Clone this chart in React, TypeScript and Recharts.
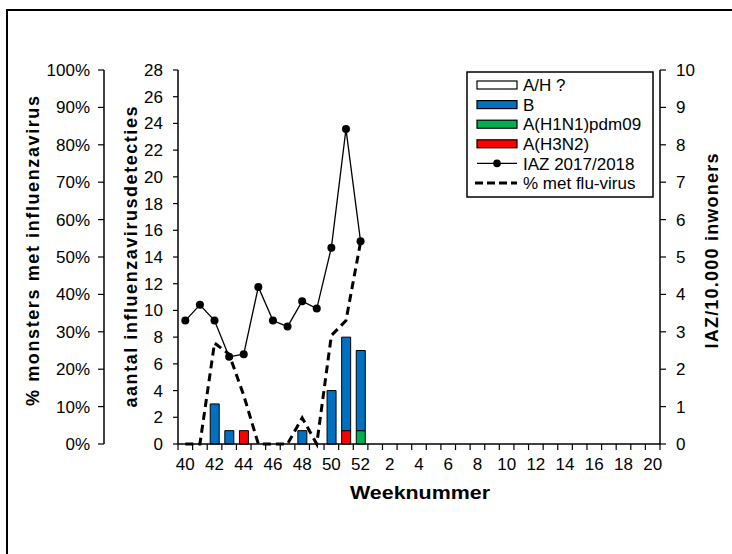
import React from 'react';
import { ComposedChart, Bar, Line, XAxis, YAxis } from 'recharts';

const weeks = [
  '40', '41', '42', '43', '44', '45', '46', '47', '48', '49', '50', '51', '52',
  '1', '2', '3', '4', '5', '6', '7', '8', '9', '10', '11', '12', '13', '14', '15', '16', '17', '18', '19', '20',
];

// weeks 40..52 only, the rest of the season has no data yet
const aUnknown = [0, 0, 0, 0, 0, 0, 0, 0, 0, 0, 0, 0, 0];
const fluB = [0, 0, 3, 1, 0, 0, 0, 0, 1, 0, 4, 7, 6];
const h1n1 = [0, 0, 0, 0, 0, 0, 0, 0, 0, 0, 0, 0, 1];
const h3n2 = [0, 0, 0, 0, 1, 0, 0, 0, 0, 0, 0, 1, 0];
const iaz = [3.3, 3.72, 3.3, 2.33, 2.4, 4.2, 3.3, 3.14, 3.82, 3.62, 5.25, 8.42, 5.42];
const pctPositive = [0, 0, 27, 24, 13, 0, 0, 0, 7, 0, 29, 33, 54];

const countTicks = [0, 2, 4, 6, 8, 10, 12, 14, 16, 18, 20, 22, 24, 26, 28];
const pctTicks = [0, 10, 20, 30, 40, 50, 60, 70, 80, 90, 100];
const iazTicks = [0, 1, 2, 3, 4, 5, 6, 7, 8, 9, 10];

const BLUE = '#0070C0';
const GREEN = '#00B050';
const RED = '#FF0000';

const legendItems = [
  { label: 'A/H ?', kind: 'box', color: '#FFFFFF' },
  { label: 'B', kind: 'box', color: BLUE },
  { label: 'A(H1N1)pdm09', kind: 'box', color: GREEN },
  { label: 'A(H3N2)', kind: 'box', color: RED },
  { label: 'IAZ 2017/2018', kind: 'dotline', color: '#000' },
  { label: '% met  flu-virus', kind: 'dash', color: '#000' },
];

const orNull = (arr: number[], i: number) => {
  const v = arr[i];
  return v === undefined || v === 0 ? null : v;
};

const data = weeks.map((week, i) => ({
  week,
  aUnknown: orNull(aUnknown, i),
  fluB: orNull(fluB, i),
  h1n1: orNull(h1n1, i),
  h3n2: orNull(h3n2, i),
  iaz: iaz[i] ?? null,
  pct: pctPositive[i] ?? null,
}));

const tickStyle = { fill: '#000', fontSize: 17 };

const WeekTick = (props: any) => {
  const { x, y, payload, index, visibleTicksCount } = props;
  const half = payload && payload.offset ? payload.offset : 7.3;
  const isLast = index === visibleTicksCount - 1;
  return (
    <g>
      <line x1={x - half} x2={x - half} y1={y} y2={y + 6} stroke="#000" strokeWidth={1.2} />
      {isLast && <line x1={x + half} x2={x + half} y1={y} y2={y + 6} stroke="#000" strokeWidth={1.2} />}
      {index % 2 === 0 && (
        <text x={x} y={y + 14} dy="0.71em" textAnchor="middle" fill="#000" fontSize={17}>
          {payload.value}
        </text>
      )}
    </g>
  );
};

const Legend = () => {
  const left = 467;
  const top = 72;
  return (
    <g>
      <rect x={left} y={top} width={186} height={125} fill="#fff" stroke="#000" strokeWidth={1.5} />
      {legendItems.map((item, i) => {
        const cy = 85 + i * 19.6;
        return (
          <g key={item.label}>
            {item.kind === 'box' && (
              <rect x={477} y={cy - 4} width={40} height={8} fill={item.color} stroke="#000" strokeWidth={1.2} />
            )}
            {item.kind === 'dotline' && (
              <g>
                <line x1={477} x2={517} y1={cy} y2={cy} stroke="#000" strokeWidth={1.2} />
                <circle cx={497} cy={cy} r={3.8} fill="#000" />
              </g>
            )}
            {item.kind === 'dash' && (
              <line x1={475} x2={517} y1={cy} y2={cy} stroke="#000" strokeWidth={3} strokeDasharray="8 4" />
            )}
            <text x={523} y={cy} dy="0.36em" fontSize={17} fill="#000">
              {item.label}
            </text>
          </g>
        );
      })}
    </g>
  );
};

export default function App() {
  return (
    <div
      style={{
        position: 'fixed',
        left: 0,
        top: 0,
        width: 732,
        height: 554,
        overflow: 'hidden',
        background: '#fff',
        fontFamily: '"Liberation Sans", Arial, sans-serif',
      }}
    >
      <div
        style={{
          position: 'absolute',
          left: 6,
          top: 9,
          width: 800,
          height: 700,
          borderLeft: '2px solid #000',
          borderTop: '2px solid #000',
        }}
      />
      <div style={{ position: 'absolute', left: 0, top: 0 }}>
        <ComposedChart width={718} height={554} data={data} margin={{ top: 70, right: 0, bottom: 70, left: 20 }}>
          <XAxis
            dataKey="week"
            type="category"
            interval={0}
            height={40}
            tickSize={0}
            tickMargin={0}
            tickLine={false}
            axisLine={{ stroke: '#000', strokeWidth: 1.5 }}
            tick={<WeekTick />}
          />
          <YAxis
            yAxisId="count"
            orientation="left"
            width={74}
            domain={[0, 28]}
            ticks={countTicks}
            interval={0}
            tickSize={5}
            tickMargin={10}
            tick={tickStyle}
            axisLine={{ stroke: '#000', strokeWidth: 1.5 }}
            tickLine={{ stroke: '#000', strokeWidth: 1.2 }}
          />
          <YAxis
            yAxisId="pct"
            orientation="left"
            width={84}
            domain={[0, 100]}
            ticks={pctTicks}
            interval={0}
            tickSize={6}
            tickMargin={8}
            tickFormatter={(v: number) => `${v}%`}
            tick={tickStyle}
            axisLine={{ stroke: '#000', strokeWidth: 1.5 }}
            tickLine={{ stroke: '#000', strokeWidth: 1.2 }}
          />
          <YAxis
            yAxisId="iaz"
            orientation="right"
            width={58}
            domain={[0, 10]}
            ticks={iazTicks}
            interval={0}
            tickSize={6}
            tickMargin={10}
            tick={tickStyle}
            axisLine={{ stroke: '#000', strokeWidth: 1.5 }}
            tickLine={{ stroke: '#000', strokeWidth: 1.2 }}
          />
          <Bar yAxisId="count" dataKey="h3n2" stackId="s" barSize={9} fill={RED} stroke="#000" strokeWidth={1} isAnimationActive={false} />
          <Bar yAxisId="count" dataKey="h1n1" stackId="s" barSize={9} fill={GREEN} stroke="#000" strokeWidth={1} isAnimationActive={false} />
          <Bar yAxisId="count" dataKey="fluB" stackId="s" barSize={9} fill={BLUE} stroke="#000" strokeWidth={1} isAnimationActive={false} />
          <Bar yAxisId="count" dataKey="aUnknown" stackId="s" barSize={9} fill="#fff" stroke="#000" strokeWidth={1} isAnimationActive={false} />
          <Line
            yAxisId="pct"
            dataKey="pct"
            type="linear"
            stroke="#000"
            strokeWidth={3}
            strokeDasharray="8 5"
            dot={false}
            activeDot={false}
            connectNulls={false}
            isAnimationActive={false}
          />
          <Line
            yAxisId="iaz"
            dataKey="iaz"
            type="linear"
            stroke="#000"
            strokeWidth={1.3}
            dot={{ r: 4, fill: '#000', stroke: '#000', strokeWidth: 0 }}
            activeDot={false}
            connectNulls={false}
            isAnimationActive={false}
          />
        </ComposedChart>
      </div>
      <svg
        width={732}
        height={554}
        style={{ position: 'absolute', left: 0, top: 0, pointerEvents: 'none' }}
      >
        <text
          x={39}
          y={251}
          transform="rotate(-90 39 251)"
          textAnchor="middle"
          fontSize={18}
          fontWeight="bold"
          fill="#000"
          textLength={310}
          lengthAdjust="spacing"
        >
          % monsters met influenzavirus
        </text>
        <text
          x={137}
          y={257}
          transform="rotate(-90 137 257)"
          textAnchor="middle"
          fontSize={18}
          fontWeight="bold"
          fill="#000"
          textLength={301}
          lengthAdjust="spacing"
        >
          aantal influenzavirusdetecties
        </text>
        <text
          x={718}
          y={251}
          transform="rotate(-90 718 251)"
          textAnchor="middle"
          fontSize={18}
          fontWeight="bold"
          fill="#000"
          textLength={195}
          lengthAdjust="spacing"
        >
          IAZ/10.000 inwoners
        </text>
        <text x={420} y={499} textAnchor="middle" fontSize={19} fontWeight="bold" fill="#000" textLength={140} lengthAdjust="spacingAndGlyphs">
          Weeknummer
        </text>
        <Legend />
      </svg>
    </div>
  );
}
